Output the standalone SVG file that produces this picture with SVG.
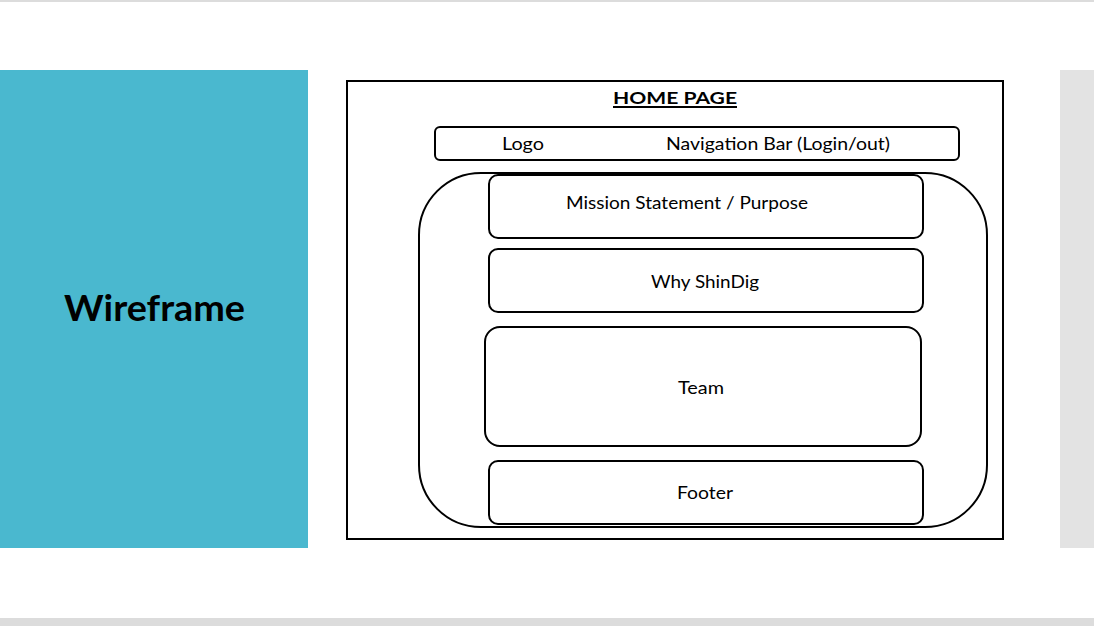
<svg xmlns="http://www.w3.org/2000/svg" width="1094" height="626" viewBox="0 0 1094 626">
<style>
.box{fill:#fff;stroke:#000;stroke-width:2}
.t{font-family:Lato,"Liberation Sans",Arial,sans-serif;font-size:17px;fill:#000;text-anchor:middle}
</style>
<rect x="0" y="0" width="1094" height="626" fill="#fff"/>
<rect x="0" y="0" width="1094" height="2" fill="#dcdcdc"/>
<rect x="0" y="618" width="1094" height="8" fill="#dcdcdc"/>
<rect x="1060" y="70" width="34" height="478" fill="#e3e3e3"/>
<g id="title-panel">
<rect x="0" y="70" width="308" height="478" fill="#4ab8cf"/>
<text x="154.5" y="321" font-family="Lato,Liberation Sans,Arial,sans-serif" font-weight="bold" font-size="36" text-anchor="middle" fill="#000" textLength="181" lengthAdjust="spacingAndGlyphs">Wireframe</text>
</g>
<g id="page">
<rect x="347" y="81" width="656" height="458" fill="#fff" stroke="#000" stroke-width="2"/>
<text x="675" y="104" class="t" font-weight="bold" textLength="124" lengthAdjust="spacingAndGlyphs">HOME PAGE</text>
<line x1="613" y1="107" x2="737" y2="107" stroke="#000" stroke-width="2"/>
</g>
<g id="navbar">
<rect class="box" x="435" y="127" width="524" height="33" rx="5"/>
<text class="t" x="523" y="150" textLength="42" lengthAdjust="spacingAndGlyphs">Logo</text>
<text class="t" x="778" y="150" textLength="224" lengthAdjust="spacingAndGlyphs">Navigation Bar (Login/out)</text>
</g>
<g id="content">
<rect class="box" x="419" y="173" width="568" height="354" rx="62"/>
</g>
<g id="mission">
<rect class="box" x="489" y="175" width="434" height="63" rx="9"/>
<text class="t" x="687" y="209" textLength="242" lengthAdjust="spacingAndGlyphs">Mission Statement / Purpose</text>
</g>
<g id="why">
<rect class="box" x="489" y="249" width="434" height="63" rx="9"/>
<text class="t" x="705" y="288" textLength="108" lengthAdjust="spacingAndGlyphs">Why ShinDig</text>
</g>
<g id="team">
<rect class="box" x="485" y="327" width="436" height="119" rx="15"/>
<text class="t" x="701" y="394" textLength="46" lengthAdjust="spacingAndGlyphs">Team</text>
</g>
<g id="footer">
<rect class="box" x="489" y="461" width="434" height="63" rx="9"/>
<text class="t" x="705" y="499" textLength="56" lengthAdjust="spacingAndGlyphs">Footer</text>
</g>
<g id="connectors"/>
</svg>
